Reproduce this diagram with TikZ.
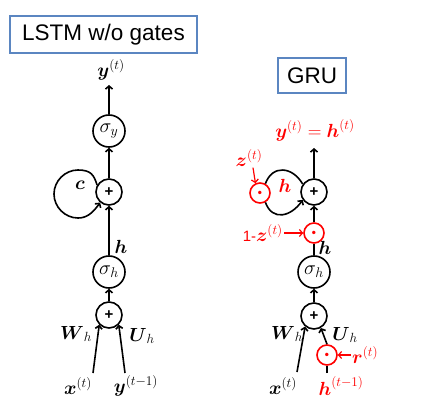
\RequirePackage{fix-cm}
\documentclass[tikz,border=0pt]{standalone}
\usepackage{amsmath,amssymb}
\usepackage{fontspec}
\newfontfamily\titlefont{Liberation Sans}
\usepackage{xcolor}
\usetikzlibrary{arrows.meta,positioning}
\definecolor{boxblue}{HTML}{5B86C1}

\begin{document}
\begin{tikzpicture}[
  x=1pt, y=1pt,
  >={Straight Barb[length=3pt,width=7pt]},
  every node/.style={font=\fontsize{19}{22}\selectfont},
  titlebox/.style={draw=boxblue, line width=1.5pt, inner sep=0pt, font=\titlefont\fontsize{22.5}{26}\selectfont},
  neuron/.style={draw, line width=1.6pt, circle, minimum size=32pt, inner sep=0pt, font=\fontsize{20}{22}\selectfont},
  sumnode/.style={draw, line width=1.6pt, circle, minimum size=26pt, inner sep=0pt, font=\titlefont\bfseries\fontsize{15}{17}\selectfont},
  gate/.style={draw=red, line width=1.6pt, circle, minimum size=20pt, inner sep=0pt, text=red, font=\fontsize{22}{24}\selectfont},
  lbl/.style={inner sep=1pt},
  arr/.style={->, line width=1.6pt},
  redarr/.style={->, line width=1.2pt, red},
  link/.style={line width=1.6pt},
]
  \useasboundingbox (0,0) rectangle (425,-414);

  % ---------- Left panel: LSTM without gates ----------
  \node[titlebox, minimum width=187pt, minimum height=37pt] (lstmtitle) at (103.5,-34.5) {LSTM w/o gates};
  \node[lbl] (yt) at (111,-70) {$\boldsymbol{y}^{(t)}$};
  \node[neuron]  (sigy)  at (109,-131) {$\sigma_y$};
  \node[sumnode] (plusc) at (109,-192) {+};
  \node[neuron]  (sigh)  at (109,-272) {$\sigma_h$};
  \node[sumnode] (plush) at (109,-315) {+};
  \node[lbl] (xt)    at (78,-386)  {$\boldsymbol{x}^{(t)}$};
  \node[lbl] (yprev) at (136,-386) {$\boldsymbol{y}^{(t-1)}$};
  \coordinate (yout) at (109,-85);
  \coordinate (xin)  at (93,-373);
  \coordinate (yin)  at (125,-373);

  \draw[arr] (sigy) -- (yout);
  \draw[arr] (plusc) -- (sigy);
  % self loop of the cell state
  \draw[arr] (plusc.150) .. controls (94,-175) and (91,-170) .. (78,-170)
    .. controls (65,-170) and (54,-181) .. (54,-194)
    .. controls (54,-207) and (65,-218) .. (78,-218)
    .. controls (86,-218) and (92,-214) .. (plusc.230);
  \node[lbl] (clbl) at (80,-185) {$\boldsymbol{c}$};
  \draw[arr] (sigh) -- (plusc);
  \node[lbl] (hlbl) at (121,-247) {$\boldsymbol{h}$};
  \draw[arr] (plush) -- (sigh);
  \draw[arr] (xin) -- (plush.225);
  \draw[arr] (yin) -- (plush.-45);
  \node[lbl] (wlbl) at (76,-334)  {$\boldsymbol{W}_h$};
  \node[lbl] (ulbl) at (142,-336) {$\boldsymbol{U}_h$};

  % ---------- Right panel: GRU ----------
  \node[titlebox, minimum width=68pt, minimum height=35pt] (grutitle) at (312,-75.5) {GRU};
  \node[lbl, text=red] (yteq) at (315,-130) {$\boldsymbol{y}^{(t)} = \boldsymbol{h}^{(t)}$};
  \node[sumnode] (gplusc) at (314,-192) {+};
  \node[gate]    (zgate)  at (260,-193) {$\boldsymbol{\cdot}$};
  \node[lbl, text=red] (zt) at (249,-158) {$\boldsymbol{z}^{(t)}$};
  \node[gate]    (omz)    at (314,-233) {$\boldsymbol{\cdot}$};
  \node[lbl, text=red, anchor=east] (omzlbl) at (284,-233) {{\titlefont\fontsize{15}{17}\selectfont 1-}$\boldsymbol{z}^{(t)}$};
  \node[neuron]  (gsigh)  at (314,-272) {$\sigma_h$};
  \node[sumnode] (gplush) at (314,-316) {+};
  \node[gate]    (rgate)  at (327,-355) {$\boldsymbol{\cdot}$};
  \node[lbl, text=red, anchor=west] (rtlbl) at (351,-355) {$\boldsymbol{r}^{(t)}$};
  \node[lbl] (gxt) at (283,-386) {$\boldsymbol{x}^{(t)}$};
  \node[lbl, text=red] (hprev) at (341,-386) {$\boldsymbol{h}^{(t-1)}$};
  \coordinate (gyout) at (314,-148);
  \coordinate (gxin)  at (297,-372);
  \coordinate (hin)   at (327,-373);

  \draw[arr] (gplusc) -- (gyout);
  \draw[link] (zgate.60) to[out=70, in=120, looseness=1.4] (gplusc.145);
  \draw[arr] (zgate.-60) to[out=-70, in=-125, looseness=1.4] (gplusc.215);
  \node[lbl, text=red] (ghlbl) at (285,-186) {$\boldsymbol{h}$};
  \draw[redarr] ([xshift=4pt]zt.south) -- (zgate.115);
  \draw[arr] (omz) -- (gplusc);
  \draw[redarr] (omzlbl.east) -- (omz.west);
  \draw[link] (gsigh) -- (omz);
  \node[lbl] (gh2lbl) at (325,-248) {$\boldsymbol{h}$};
  \draw[arr] (gplush) -- (gsigh);
  \draw[arr] (gxin) -- (gplush.230);
  \draw[link] (hin) -- (rgate.south);
  \draw[arr] (rgate.north) -- (gplush.-60);
  \draw[redarr] (rtlbl.west) -- (rgate.east);
  \node[lbl] (gwlbl) at (287,-334) {$\boldsymbol{W}_h$};
  \node[lbl] (gulbl) at (345,-335) {$\boldsymbol{U}_h$};
\end{tikzpicture}
\end{document}
